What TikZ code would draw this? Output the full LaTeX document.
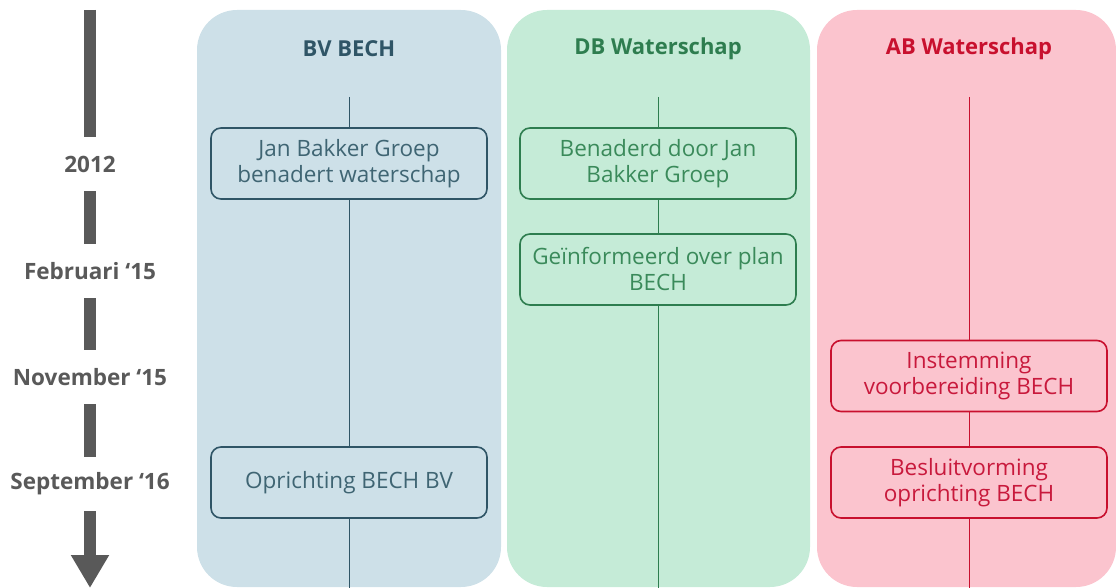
\documentclass[tikz,border=0pt]{standalone}
\usepackage{fontspec}
\setmainfont{Open Sans}
\usetikzlibrary{arrows.meta}
\definecolor{bvfill}{HTML}{CDE0E8}
\definecolor{bvline}{HTML}{2F5566}
\definecolor{bvtext}{HTML}{3F6573}
\definecolor{dbfill}{HTML}{C5EBD7}
\definecolor{dbline}{HTML}{2E7D4F}
\definecolor{dbtext}{HTML}{3A8A5A}
\definecolor{abfill}{HTML}{FBC4CE}
\definecolor{abline}{HTML}{C8102E}
\definecolor{abtext}{HTML}{C8193C}
\definecolor{tline}{HTML}{595959}
\tikzset{
  column/.style={rounded corners=40pt, draw=none},
  header/.style={font=\fontsize{22}{26}\selectfont\bfseries},
  event/.style={draw, line width=1.6pt, rounded corners=10pt, minimum width=276pt,
    minimum height=71pt, align=center, inner sep=0pt,
    font=\fontsize{22.5}{26}\selectfont},
  date/.style={text=tline, font=\fontsize{22.5}{26}\selectfont\bfseries,
    minimum height=54pt, inner sep=0pt},
  bar/.style={line width=12pt, draw=tline},
  link/.style={line width=0.8pt}
}
\begin{document}
\begin{tikzpicture}[x=1pt,y=-1pt]
\useasboundingbox (0,0) rectangle (1116,588);
% columns
\fill [column, bvfill] (197,10) rectangle (501,587);
\fill [column, dbfill] (507,10) rectangle (810,587);
\fill [column, abfill] (817,10) rectangle (1116,587);
\node [header, text=bvline] (bv) at (349,49) {BV BECH};
\node [header, text=dbline] (db) at (658,49) {DB Waterschap};
\node [header, text=abline] (ab) at (969,49) {AB Waterschap};
% BV BECH
\coordinate (bvtop) at (349,97);
\coordinate (bvend) at (349,588);
\node [event, draw=bvline, text=bvtext] (bv1) at (349,163.5) {Jan Bakker Groep\\benadert waterschap};
\node [event, draw=bvline, text=bvtext] (bv2) at (349,482.5) {Oprichting BECH BV};
\draw [link, bvline] (bvtop)--(bv1.north);
\draw [link, bvline] (bv1.south)--(bv2.north);
\draw [link, bvline] (bv2.south)--(bvend);
% DB Waterschap
\coordinate (dbtop) at (658,97);
\coordinate (dbend) at (658,588);
\node [event, draw=dbline, text=dbtext] (db1) at (658,163.5) {Benaderd door Jan\\Bakker Groep};
\node [event, draw=dbline, text=dbtext] (db2) at (658,269.5) {Geïnformeerd over plan\\BECH};
\draw [link, dbline] (dbtop)--(db1.north);
\draw [link, dbline] (db1.south)--(db2.north);
\draw [link, dbline] (db2.south)--(dbend);
% AB Waterschap
\coordinate (abtop) at (969,97);
\coordinate (abend) at (969,588);
\node [event, draw=abline, text=abtext] (ab1) at (969,376) {Instemming\\voorbereiding BECH};
\node [event, draw=abline, text=abtext] (ab2) at (969,482.5) {Besluitvorming\\oprichting BECH};
\draw [link, abline] (abtop)--(ab1.north);
\draw [link, abline] (ab1.south)--(ab2.north);
\draw [link, abline] (ab2.south)--(abend);
% timeline
\coordinate (tstart) at (90,10);
\coordinate (tend) at (90,588);
\node [date] (d2012) at (90,164) {2012};
\node [date] (dfeb) at (90,271) {Februari ‘15};
\node [date] (dnov) at (90,377) {November ‘15};
\node [date] (dsep) at (90,484) {September ‘16};
\draw [bar] (tstart)--(d2012.north);
\draw [bar] (d2012.south)--(dfeb.north);
\draw [bar] (dfeb.south)--(dnov.north);
\draw [bar] (dnov.south)--(dsep.north);
\draw [bar, -{Triangle[width=36pt,length=33pt]}] (dsep.south)--(tend);
\end{tikzpicture}
\end{document}
